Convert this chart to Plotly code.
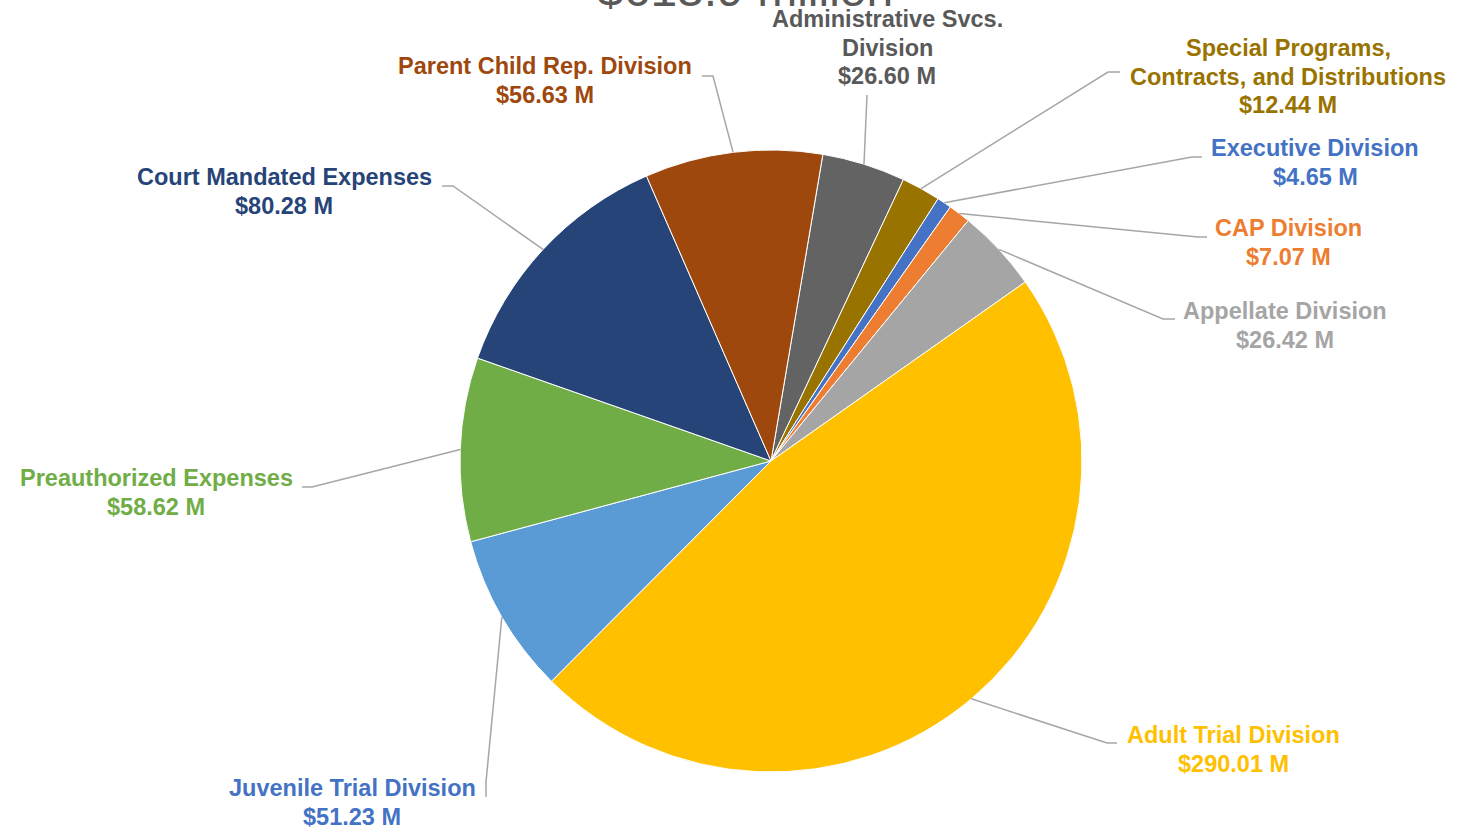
import math
import plotly.graph_objects as go

# ---- data ----
divisions = [
    "Administrative Svcs. Division",
    "Special Programs, Contracts, and Distributions",
    "Executive Division",
    "CAP Division",
    "Appellate Division",
    "Adult Trial Division",
    "Juvenile Trial Division",
    "Preauthorized Expenses",
    "Court Mandated Expenses",
    "Parent Child Rep. Division",
]
amounts_m = [26.60, 12.44, 4.65, 7.07, 26.42, 290.01, 51.23, 58.62, 80.28, 56.63]
label_lines = [
    ["Administrative Svcs.", "Division"],
    ["Special Programs,", "Contracts, and Distributions"],
    ["Executive Division"],
    ["CAP Division"],
    ["Appellate Division"],
    ["Adult Trial Division"],
    ["Juvenile Trial Division"],
    ["Preauthorized Expenses"],
    ["Court Mandated Expenses"],
    ["Parent Child Rep. Division"],
]
title_text = "$613.9 million"

# ---- styles ----
slice_colors = ["#636363", "#997300", "#4472C4", "#ED7D31", "#A5A5A5",
                "#FFC000", "#5B9BD5", "#70AD47", "#264478", "#9E480E"]
text_colors = ["#595959", "#997300", "#4472C4", "#ED7D31", "#A5A5A5",
               "#FFC000", "#4472C4", "#70AD47", "#264478", "#9E480E"]

W, H = 1458, 833
CX, CY, R = 771, 461, 311
ROTATION = 9.6
FONT = "Liberation Sans, Arial, sans-serif"
FS = 23.5
LINE_H = 28.6

# label layout (pixel): centre x, first-line centre y
label_pos = [(887, 19), (1288, 48), (1315, 148), (1288, 228), (1285, 311),
             (1233, 735), (352, 788), (156, 478), (284, 177), (545, 66)]
# leader line elbow and end points (pixel)
leader_pts = [
    [(867, 95)],
    [(1108, 72), (1120, 72)],
    [(1192, 157), (1202, 157)],
    [(1198, 237), (1207, 237)],
    [(1163, 319), (1175, 319)],
    [(1107, 743), (1117, 743)],
    [(486, 782), (486, 797)],
    [(312, 487), (302, 487)],
    [(453, 186), (442, 186)],
    [(713, 76), (702, 76)],
]

def px(x):
    return x / W

def py(y):
    return 1 - y / H

fig = go.Figure(go.Pie(
    labels=divisions,
    values=amounts_m,
    sort=False,
    direction="clockwise",
    rotation=ROTATION,
    marker=dict(colors=slice_colors, line=dict(color="white", width=1)),
    textinfo="none",
    hoverinfo="label+value",
    showlegend=False,
    domain=dict(x=[px(CX - R), px(CX + R)], y=[py(CY + R), py(CY - R)]),
))

total = sum(amounts_m)
annotations = []
shapes = []
cum = 0.0
for i, v in enumerate(amounts_m):
    mid = math.radians(ROTATION + (cum + v / 2) / total * 360)
    cum += v
    sx = CX + R * math.sin(mid)
    sy = CY - R * math.cos(mid)
    pts = [(sx, sy)] + leader_pts[i]
    path = "M " + " L ".join(f"{px(a):.5f},{py(b):.5f}" for a, b in pts)
    shapes.append(dict(type="path", xref="paper", yref="paper", path=path,
                       line=dict(color="#A6A6A6", width=1.5)))
    lines = label_lines[i] + [f"${v:.2f} M"]
    lx, ly = label_pos[i]
    for k, t in enumerate(lines):
        annotations.append(dict(
            x=px(lx), y=py(ly + k * LINE_H), xref="paper", yref="paper",
            text=f"<b>{t}</b>", showarrow=False, xanchor="center", yanchor="middle",
            font=dict(family=FONT, size=FS, color=text_colors[i]),
        ))

annotations.append(dict(
    x=px(745), y=py(18), xref="paper", yref="paper", text=title_text,
    showarrow=False, xanchor="center", yanchor="bottom",
    font=dict(family=FONT, size=48, color="#595959"),
))

fig.update_layout(
    width=W, height=H,
    margin=dict(l=0, r=0, t=0, b=0),
    paper_bgcolor="white", plot_bgcolor="white",
    annotations=annotations, shapes=shapes,
)

fig.write_html("out.html")
